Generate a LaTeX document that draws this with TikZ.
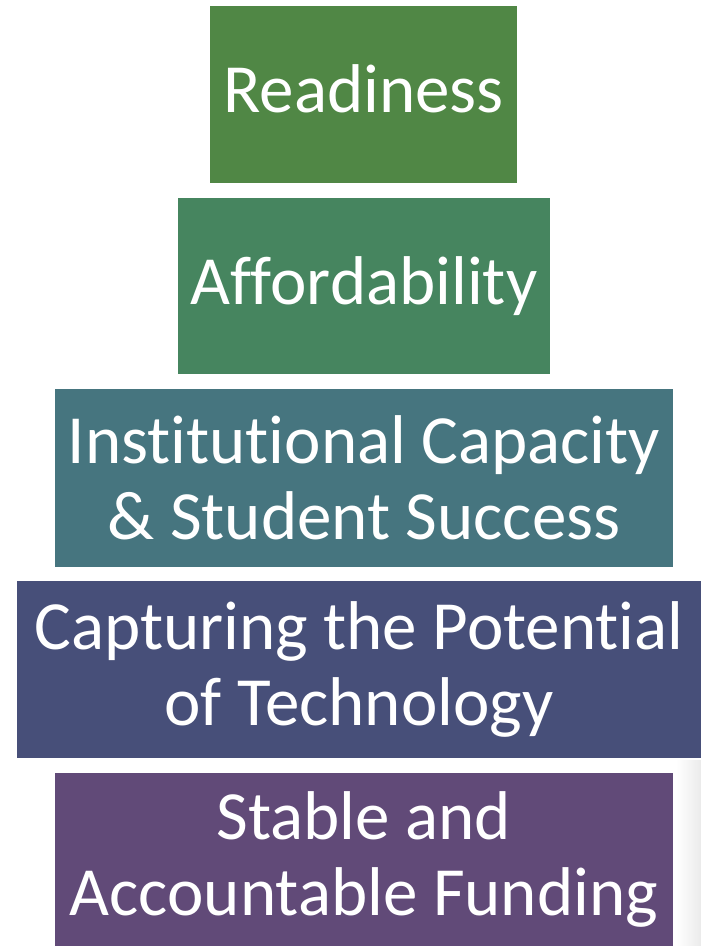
\documentclass[tikz,border=0pt]{standalone}
\usepackage{fontspec}
\setmainfont{Carlito}[Ligatures={NoCommon,NoContextual}]
\usepackage{tikz}

\definecolor{readygreen}{HTML}{508745}
\definecolor{affordgreen}{HTML}{46855F}
\definecolor{capteal}{HTML}{46757F}
\definecolor{techblue}{HTML}{474F79}
\definecolor{fundpurple}{HTML}{614A78}

\tikzset{
  tier/.style={rectangle, inner sep=0pt, text=white, align=center,
    font=\fontsize{69}{76}\selectfont}
}

\begin{document}
\begin{tikzpicture}[x=1pt, y=-1pt]
        \useasboundingbox (0,0) rectangle (701,946);
        \fill[white] (0,0) rectangle (701,946);
        \shade[left color=white, right color=black!8] (676,760) rectangle (701,946);
        \node[tier, fill=readygreen, minimum width=307pt, minimum height=177pt] (readiness) at (363.5,94.5) {Readiness\vphantom{y}};
        \node[tier, fill=affordgreen, minimum width=372pt, minimum height=176pt] (afford) at (364,286) {Affordability};
        \node[tier, fill=capteal, minimum width=618pt, minimum height=178pt] (capacity) at (364,478) {Institutional Capacity\\\& Student Success};
        \node[tier, fill=techblue, minimum width=684pt, minimum height=177pt] (tech) at (359,669.5) {Capturing the Potential\\of Technology};
        \node[tier, fill=fundpurple, minimum width=618pt, minimum height=173pt] (funding) at (364,859.5) {Stable and\\Accountable Funding};
    \end{tikzpicture}
\end{document}
